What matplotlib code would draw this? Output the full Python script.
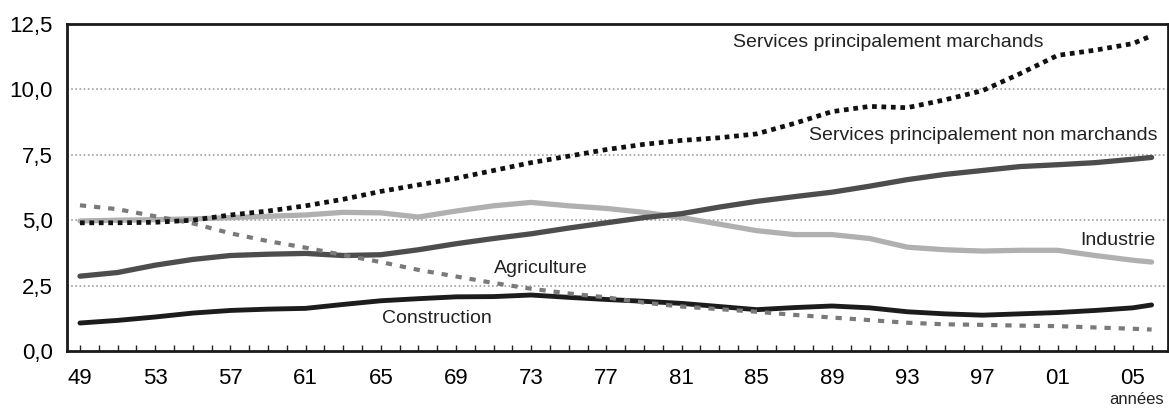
import matplotlib
matplotlib.use("Agg")
import matplotlib.pyplot as plt
from matplotlib import font_manager
from matplotlib.ticker import FixedLocator, MultipleLocator

# Pick a narrow sans font if one is installed
installed = {f.name for f in font_manager.fontManager.ttflist}
FONT = 'Liberation Sans Narrow' if 'Liberation Sans Narrow' in installed else 'Liberation Sans'
plt.rcParams['font.family'] = [FONT, 'DejaVu Sans']

years = [1949, 1951, 1953, 1955, 1957, 1959, 1961, 1963, 1965, 1967,
         1969, 1971, 1973, 1975, 1977, 1979, 1981, 1983, 1985, 1987,
         1989, 1991, 1993, 1995, 1997, 1999, 2001, 2003, 2005, 2006]

services_marchands = [4.90, 4.90, 4.92, 5.00, 5.20, 5.35, 5.55, 5.80, 6.10, 6.35,
                      6.60, 6.90, 7.20, 7.45, 7.70, 7.90, 8.05, 8.15, 8.30, 8.70,
                      9.15, 9.35, 9.30, 9.60, 9.95, 10.60, 11.30, 11.50, 11.75, 12.05]
services_non_marchands = [2.86, 3.00, 3.28, 3.50, 3.65, 3.70, 3.73, 3.65, 3.68, 3.87,
                          4.10, 4.30, 4.48, 4.70, 4.90, 5.10, 5.25, 5.50, 5.72, 5.90,
                          6.07, 6.30, 6.55, 6.75, 6.90, 7.05, 7.12, 7.20, 7.33, 7.40]
industrie = [4.97, 5.00, 5.02, 5.05, 5.10, 5.15, 5.20, 5.30, 5.28, 5.12,
             5.35, 5.55, 5.68, 5.55, 5.45, 5.30, 5.10, 4.85, 4.60, 4.45,
             4.45, 4.30, 3.97, 3.87, 3.82, 3.85, 3.85, 3.65, 3.47, 3.40]
agriculture = [5.57, 5.42, 5.15, 4.88, 4.50, 4.20, 3.95, 3.67, 3.40, 3.10,
               2.85, 2.60, 2.38, 2.20, 2.05, 1.85, 1.70, 1.60, 1.50, 1.38,
               1.28, 1.18, 1.08, 1.02, 1.00, 0.97, 0.95, 0.90, 0.85, 0.82]
construction = [1.07, 1.17, 1.30, 1.45, 1.55, 1.60, 1.63, 1.78, 1.92, 2.00,
                2.07, 2.08, 2.14, 2.05, 1.97, 1.90, 1.82, 1.70, 1.58, 1.66,
                1.72, 1.65, 1.50, 1.42, 1.37, 1.42, 1.47, 1.55, 1.65, 1.76]

tick_years = list(range(1949, 2006, 4))
tick_labels = [f"{y % 100:02d}" for y in tick_years]
y_ticks = [0.0, 2.5, 5.0, 7.5, 10.0, 12.5]
y_labels = [f"{v:.1f}".replace('.', ',') for v in y_ticks]

fig = plt.figure(figsize=(11.69, 4.08), dpi=100)
ax = fig.add_axes([0.0573, 0.1397, 0.9418, 0.8015])

# dotted horizontal grid
for v in y_ticks[1:-1]:
    ax.axhline(v, color='#a0a0a0', linestyle=(0, (1, 1.5)), linewidth=1.2, zorder=1)

ax.plot(years, industrie, color='#b0b0b0', linewidth=3.8, solid_capstyle='round', zorder=2)
ax.plot(years, services_non_marchands, color='#4d4d4d', linewidth=3.8, solid_capstyle='round', zorder=3)
ax.plot(years, construction, color='#1c1c1c', linewidth=3.5, solid_capstyle='round', zorder=3)
ax.plot(years, agriculture, color='#7a7a7a', linewidth=3.0, linestyle=(0, (1.5, 1.9)),
        dash_capstyle='butt', zorder=4)
ax.plot(years, services_marchands, color='#111111', linewidth=3.4, linestyle=(0, (1, 1.0)),
        dash_capstyle='butt', zorder=5)

ax.set_xlim(1948.31, 2006.87)
ax.set_ylim(0, 12.5)

ax.xaxis.set_major_locator(FixedLocator(tick_years))
ax.set_xticklabels(tick_labels)
ax.xaxis.set_minor_locator(MultipleLocator(1))
ax.tick_params(axis='x', which='both', direction='in', length=4, width=1, color='#222222',
               pad=12, labelsize=16)
ax.set_yticks(y_ticks)
ax.set_yticklabels(y_labels)
ax.tick_params(axis='y', length=0, pad=10, labelsize=16)

for s in ax.spines.values():
    s.set_linewidth(2)
    s.set_color('#1a1a1a')

lab = dict(fontsize=14, color='#222222')
ax.text(1992.0, 11.8, 'Services principalement marchands', ha='center', va='center', **lab)
ax.text(2006.3, 8.24, 'Services principalement non marchands', ha='right', va='center', **lab)
ax.text(2006.2, 4.24, 'Industrie', ha='right', va='center', **lab)
ax.text(1973.5, 3.17, 'Agriculture', ha='center', va='center', **lab)
ax.text(1968.0, 1.26, 'Construction', ha='center', va='center', **lab)

fig.text(0.972, 0.002, 'années', ha='center', va='bottom', fontsize=12, color='#222222')

fig.savefig('out.png', dpi=100)
